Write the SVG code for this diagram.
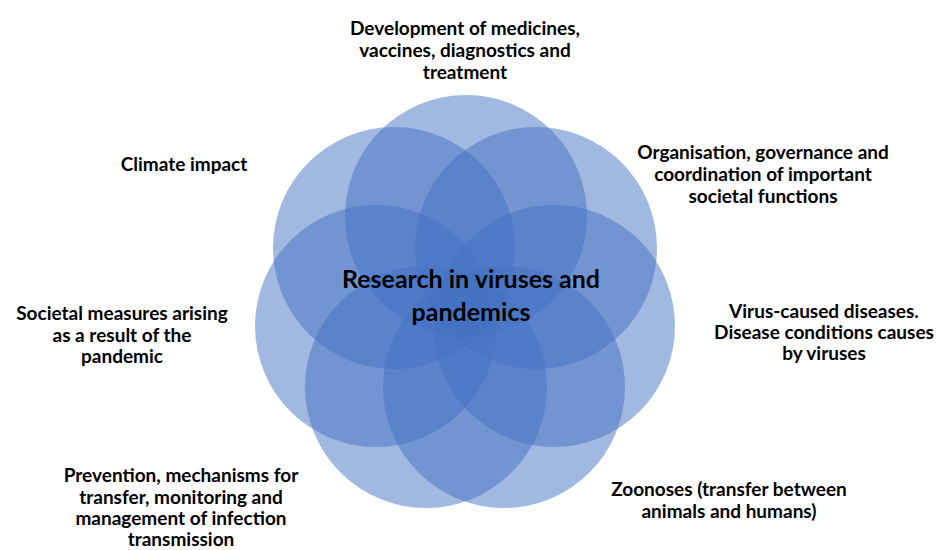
<svg xmlns="http://www.w3.org/2000/svg" width="936" height="550" viewBox="0 0 936 550">
<style>
.c{fill:#4472C4;fill-opacity:0.5}
.lbl{font-family:Lato,"Liberation Sans",sans-serif;font-weight:bold;font-size:19px;fill:#000;text-anchor:middle}
.ctr{font-family:Lato,"Liberation Sans",sans-serif;font-weight:bold;font-size:25px;fill:#000;text-anchor:middle}
</style>
<rect width="936" height="550" fill="#fff"/>
<g id="circles">
<circle id="c-top" class="c" cx="466" cy="216" r="121"/>
<circle id="c-ur" class="c" cx="536" cy="248" r="121"/>
<circle id="c-r" class="c" cx="554" cy="326" r="121"/>
<circle id="c-br" class="c" cx="504" cy="387" r="121"/>
<circle id="c-bl" class="c" cx="426" cy="387" r="121"/>
<circle id="c-l" class="c" cx="376" cy="326" r="121"/>
<circle id="c-ul" class="c" cx="394" cy="248" r="121"/>
</g>
<g id="connectors"></g>
<g id="center">
<text class="ctr" x="471" y="288">Research in viruses and</text>
<text class="ctr" x="471" y="321">pandemics</text>
</g>
<g id="n-development">
<text class="lbl" x="465" y="35">Development of medicines,</text>
<text class="lbl" x="465" y="57">vaccines, diagnostics and</text>
<text class="lbl" x="465" y="79">treatment</text>
</g>
<g id="n-climate">
<text class="lbl" x="184" y="171">Climate impact</text>
</g>
<g id="n-organisation">
<text class="lbl" x="763" y="159">Organisation, governance and</text>
<text class="lbl" x="763" y="181">coordination of important</text>
<text class="lbl" x="763" y="203">societal functions</text>
</g>
<g id="n-societal">
<text class="lbl" x="122" y="320">Societal measures arising</text>
<text class="lbl" x="122" y="342">as a result of the</text>
<text class="lbl" x="122" y="363">pandemic</text>
</g>
<g id="n-virus">
<text class="lbl" x="824" y="318">Virus-caused diseases.</text>
<text class="lbl" x="824" y="339">Disease conditions causes</text>
<text class="lbl" x="824" y="360">by viruses</text>
</g>
<g id="n-prevention">
<text class="lbl" x="181" y="482">Prevention, mechanisms for</text>
<text class="lbl" x="181" y="504">transfer, monitoring and</text>
<text class="lbl" x="181" y="525">management of infection</text>
<text class="lbl" x="181" y="546">transmission</text>
</g>
<g id="n-zoonoses">
<text class="lbl" x="729" y="496">Zoonoses (transfer between</text>
<text class="lbl" x="729" y="518">animals and humans)</text>
</g>
</svg>
